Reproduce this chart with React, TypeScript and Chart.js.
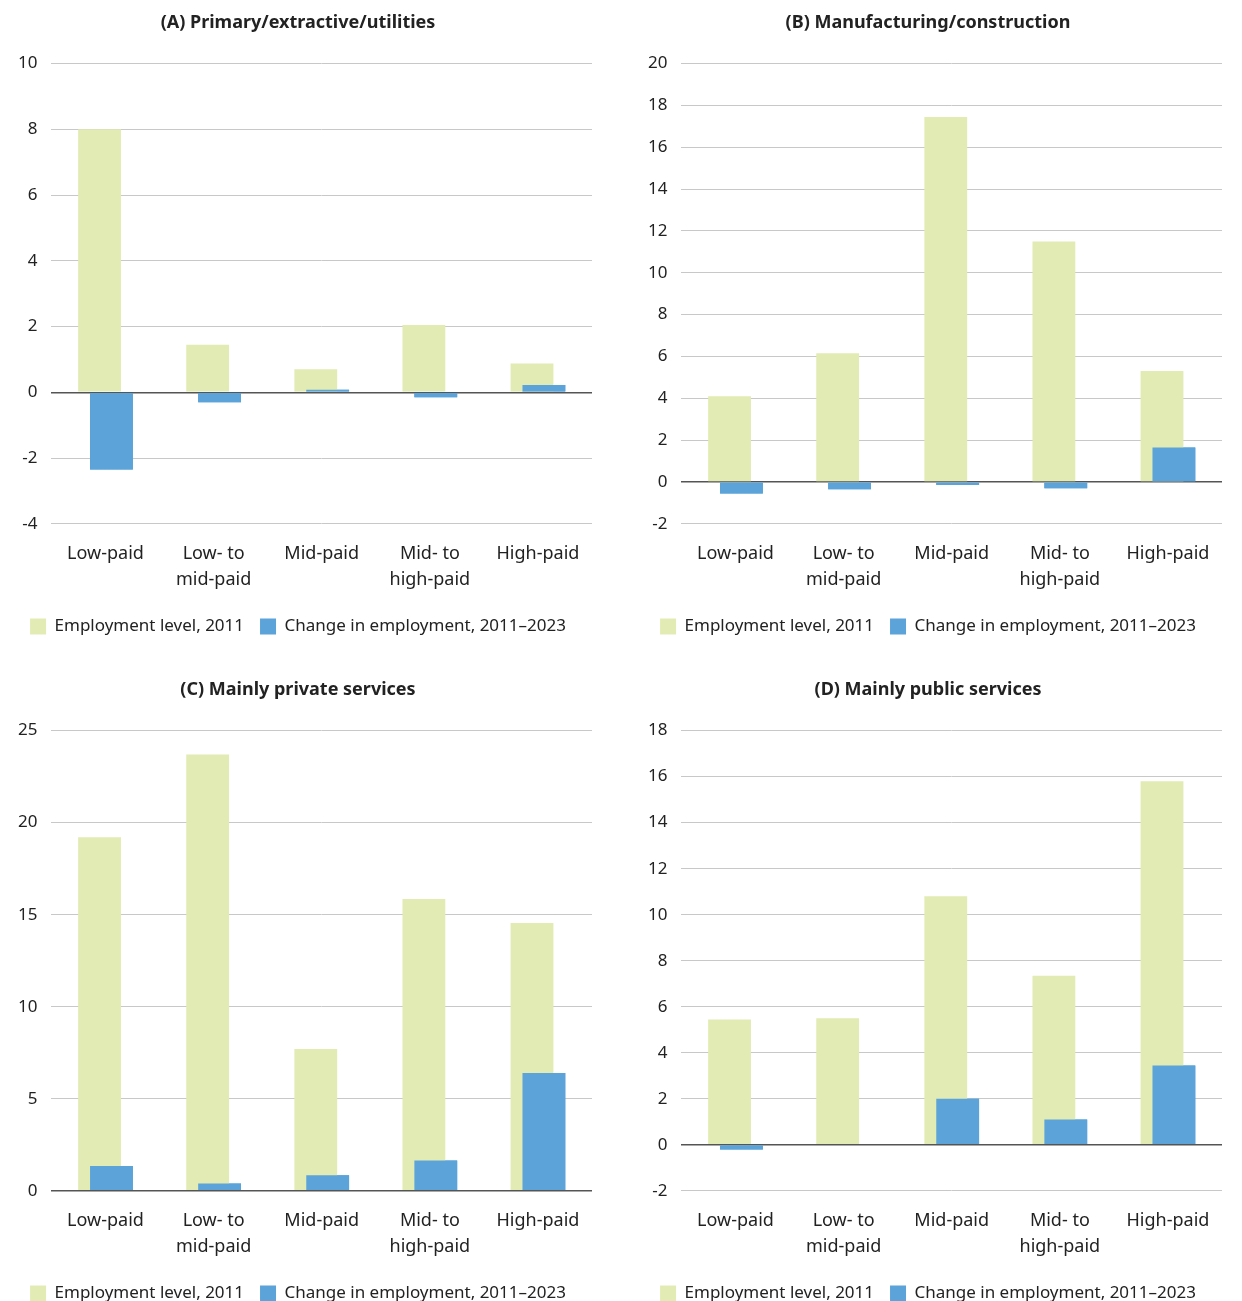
import { useEffect, useRef } from "react";
import { Chart, registerables, Plugin } from "chart.js";

Chart.register(...registerables);

const categories = [["Low-paid"], ["Low- to", "mid-paid"], ["Mid-paid"], ["Mid- to", "high-paid"], ["High-paid"]];
const seriesNames = ["Employment level, 2011", "Change in employment, 2011\u20132023"];

const titles = [
  "(A) Primary/extractive/utilities",
  "(B) Manufacturing/construction",
  "(C) Mainly private services",
  "(D) Mainly public services",
];
const level2011 = [
  [8, 1.45, 0.7, 2.05, 0.88],
  [4.1, 6.15, 17.45, 11.5, 5.3],
  [19.2, 23.7, 7.7, 15.85, 14.55],
  [5.45, 5.5, 10.8, 7.35, 15.8],
];
const change = [
  [-2.35, -0.3, 0.08, -0.15, 0.22],
  [-0.55, -0.35, -0.15, -0.3, 1.65],
  [1.35, 0.4, 0.85, 1.65, 6.4],
  [-0.2, 0, 2, 1.1, 3.45],
];
const yRanges = [
  [-4, 10, 2],
  [-2, 20, 2],
  [0, 25, 5],
  [-2, 18, 2],
];

const FONT = "'Noto Sans', sans-serif";

// blue bars go on top of the green ones
const blueOnTop: Plugin<"bar"> = {
  id: "blueOnTop",
  afterDatasetsDraw: (chart) => {
    const meta = chart.getDatasetMeta(1);
    const ctx = chart.ctx;
    ctx.save();
    const a = chart.chartArea;
    ctx.beginPath();
    ctx.rect(a.left, a.top, a.right - a.left, a.bottom - a.top);
    ctx.clip();
    meta.controller.draw();
    ctx.restore();
  },
};

function Panel({ idx }: { idx: number }) {
  const ref = useRef<HTMLCanvasElement | null>(null);
  useEffect(() => {
    if (!ref.current) return;
    const [min, max, step] = yRanges[idx];
    const chart = new Chart(ref.current, {
      type: "bar",
      data: {
        labels: categories,
        datasets: [
          { label: seriesNames[0], data: level2011[idx], backgroundColor: "#e2ebb3", categoryPercentage: 0.22, barPercentage: 3.6 },
          { label: seriesNames[1], data: change[idx], backgroundColor: "#5ba3d9", categoryPercentage: 0.22, barPercentage: 3.6 },
        ],
      },
      options: {
        animation: false,
        responsive: false,
        layout: { padding: { left: 4, right: 28, top: 4, bottom: 0 } },
        plugins: {
          title: { display: true, text: titles[idx], font: { family: FONT, size: 18, weight: "bold" }, color: "#222", padding: { top: 8, bottom: 30 } },
          legend: {
            position: "bottom",
            labels: { font: { family: FONT, size: 17 }, color: "#222", boxWidth: 16, boxHeight: 16, padding: 16 },
          },
          tooltip: { enabled: false },
        },
        scales: {
          x: {
            grid: { display: false },
            border: { display: false },
            ticks: { font: { family: FONT, size: 18, lineHeight: 1.45 }, color: "#222", maxRotation: 0, padding: 9 },
          },
          y: {
            min, max,
            ticks: { stepSize: step, font: { family: FONT, size: 17 }, color: "#222", padding: 14 },
            border: { display: false },
            grid: {
              color: (c) => (c.tick && c.tick.value === 0 ? "#555" : "#c8c8c8"),
              lineWidth: (c) => (c.tick && c.tick.value === 0 ? 1.5 : 1),
              drawTicks: false,
            },
          },
        },
      },
      plugins: [blueOnTop],
    });
    return () => chart.destroy();
  }, [idx]);
  return <canvas ref={ref} width={620} height={645} style={{ display: "block" }} />;
}

export default function App() {
  useEffect(() => {
    document.body.style.margin = "0";
    document.body.style.background = "#fff";
  }, []);
  return (
    <div style={{ display: "grid", gridTemplateColumns: "620px 620px", columnGap: 10, rowGap: 22, width: 1250 }}>
      {[0, 1, 2, 3].map((i) => (
        <Panel key={i} idx={i} />
      ))}
    </div>
  );
}
